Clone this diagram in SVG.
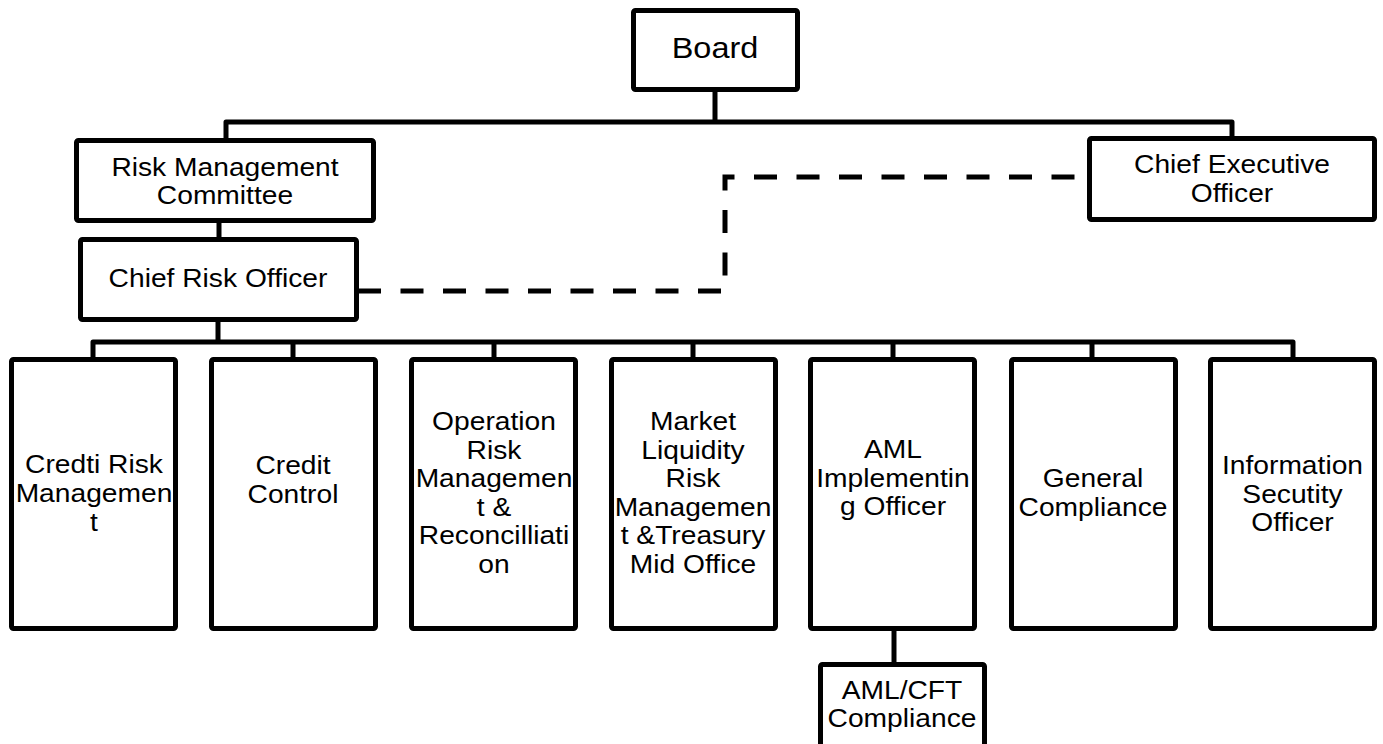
<svg xmlns="http://www.w3.org/2000/svg" width="1383" height="744" viewBox="0 0 1383 744">
<style>
.box{fill:#fff;stroke:#000;stroke-width:5;stroke-linejoin:round}
.ln{fill:none;stroke:#000;stroke-width:5;stroke-linejoin:round}
.dash{fill:none;stroke:#000;stroke-width:5;stroke-dasharray:23 19.5}
text{font-family:"Liberation Sans",Arial,Helvetica,sans-serif;font-size:26px;fill:#000;text-anchor:middle}
.big{font-size:29.5px}
</style>
<rect width="1383" height="744" fill="#fff"/>
<g id="connectors">
<path class="ln" d="M715 90 V122 M226 138 V122 H1232 V136"/>
<path class="ln" d="M219 223 V237"/>
<path class="ln" d="M218 322 V342 M93 357 V342 H1293 V357 M293 342 V357 M494 342 V357 M693 342 V357 M893 342 V357 M1092 342 V357"/>
<path class="ln" d="M894 631 V662"/>
<path class="dash" d="M358 291 H725 V177 H1087"/>
</g>
<g id="board"><rect class="box" x="633.5" y="10.5" width="164" height="79" rx="2"/><g transform="translate(715,0) scale(1.1,1)"><text class="big" x="0" y="58">Board</text></g></g>
<g id="rmc"><rect class="box" x="76.5" y="140.5" width="297" height="80" rx="2"/><g transform="translate(225,0) scale(1.085,1)"><text x="0" y="176">Risk Management</text><text x="0" y="204">Committee</text></g></g>
<g id="ceo"><rect class="box" x="1089.5" y="138.5" width="285" height="81" rx="2"/><g transform="translate(1232,0) scale(1.085,1)"><text x="0" y="173">Chief Executive</text><text x="0" y="202">Officer</text></g></g>
<g id="cro"><rect class="box" x="80.5" y="239.5" width="276" height="80" rx="2"/><g transform="translate(218,0) scale(1.085,1)"><text x="0" y="287">Chief Risk Officer</text></g></g>
<g id="credit-risk"><rect class="box" x="11.5" y="359.5" width="164" height="269" rx="2"/><g transform="translate(94,0) scale(1.085,1)"><text x="0" y="473">Credti Risk</text><text x="0" y="502">Managemen</text><text x="0" y="531">t</text></g></g>
<g id="credit-control"><rect class="box" x="211.5" y="359.5" width="164" height="269" rx="2"/><g transform="translate(293,0) scale(1.085,1)"><text x="0" y="474">Credit</text><text x="0" y="503">Control</text></g></g>
<g id="operation-risk"><rect class="box" x="411.5" y="359.5" width="164" height="269" rx="2"/><g transform="translate(494,0) scale(1.085,1)"><text x="0" y="430">Operation</text><text x="0" y="458.6">Risk</text><text x="0" y="487.2">Managemen</text><text x="0" y="515.8">t &amp;</text><text x="0" y="544.4">Reconcilliati</text><text x="0" y="573">on</text></g></g>
<g id="market-liquidity"><rect class="box" x="611.5" y="359.5" width="164" height="269" rx="2"/><g transform="translate(693,0) scale(1.085,1)"><text x="0" y="430">Market</text><text x="0" y="458.6">Liquidity</text><text x="0" y="487.2">Risk</text><text x="0" y="515.8">Managemen</text><text x="0" y="544.4">t &amp;Treasury</text><text x="0" y="573">Mid Office</text></g></g>
<g id="aml-officer"><rect class="box" x="810.5" y="359.5" width="164" height="269" rx="2"/><g transform="translate(893,0) scale(1.085,1)"><text x="0" y="458.5">AML</text><text x="0" y="487">Implementin</text><text x="0" y="515.5">g Officer</text></g></g>
<g id="general-compliance"><rect class="box" x="1011.5" y="359.5" width="164" height="269" rx="2"/><g transform="translate(1093,0) scale(1.085,1)"><text x="0" y="487">General</text><text x="0" y="516">Compliance</text></g></g>
<g id="info-security"><rect class="box" x="1210.5" y="359.5" width="164" height="269" rx="2"/><g transform="translate(1292.5,0) scale(1.085,1)"><text x="0" y="474">Information</text><text x="0" y="503">Secutity</text><text x="0" y="531">Officer</text></g></g>
<g id="aml-cft"><rect class="box" x="820.5" y="664.5" width="164" height="100" rx="2"/><g transform="translate(902,0) scale(1.085,1)"><text x="0" y="699">AML/CFT</text><text x="0" y="727">Compliance</text></g></g>
</svg>
